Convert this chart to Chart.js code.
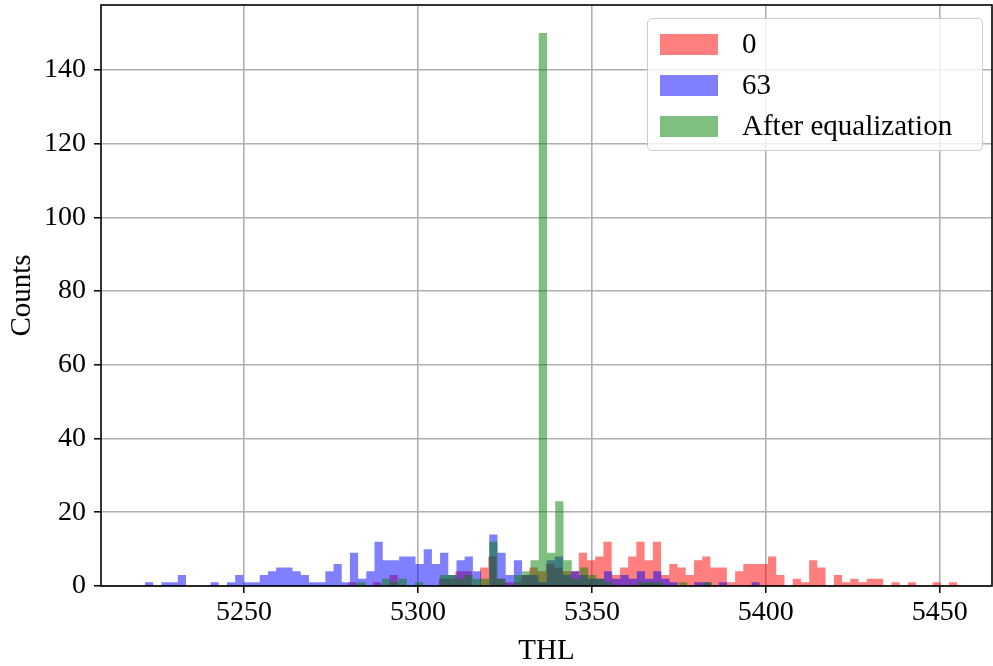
<!DOCTYPE html>
<html>
<head>
<meta charset="utf-8">
<script src="https://cdn.jsdelivr.net/npm/chart.js@4.4.1/dist/chart.umd.min.js"></script>
<style>
  body { margin: 0; background: #fff; }
  #wrap { position: relative; width: 993px; height: 666px; }
  #legend {
    position: absolute; left: 647px; top: 18px; width: 334px; height: 131px;
    border: 1px solid #cccccc; border-radius: 5px; background: rgba(255,255,255,0.8);
    font-family: "Liberation Serif", serif; font-size: 29px; color: #000;
  }
  .item { position: absolute; left: 12px; height: 22px; }
  .sw { position: absolute; left: 0; top: 0; width: 58px; height: 21px; }
  .lbl { position: absolute; left: 82px; top: -7px; white-space: nowrap; }
</style>
</head>
<body>
<div id="wrap">
  <canvas id="chartCanvas" width="993" height="666"></canvas>
  <div id="legend"></div>
</div>
<script>
// tick labels
const thlTicks = [5250, 5300, 5350, 5400, 5450];
const countTicks = [0, 20, 40, 60, 80, 100, 120, 140];

// histogram "0" (trim dac at 0)
const binStart0 = 5280.0;
const binWidth0 = 2.365;
const counts0 = [1, 0, 0, 1, 0, 3, 0, 0, 0, 0, 0, 2, 2, 4, 4, 0, 5, 8, 2, 1,
                 1, 3, 5, 4, 6, 5, 4, 4, 9, 7, 8, 12, 3, 5, 8, 12, 7, 12, 3, 6,
                 5, 3, 7, 8, 5, 5, 1, 4, 6, 6, 6, 8, 3, 0, 2, 1, 7, 5, 0, 3,
                 1, 2, 1, 2, 2, 0, 1, 0, 1, 0, 0, 1, 0, 1];

// histogram "63"
const binStart63 = 5221.55;
const binWidth63 = 2.356;
const counts63 = [1, 0, 1, 1, 3, 0, 0, 0, 1, 0, 1, 3, 1, 1, 3, 4, 5, 5, 4, 3,
                  1, 1, 4, 6, 1, 9, 2, 4, 12, 7, 7, 8, 8, 6, 10, 6, 9, 3, 7, 8,
                  4, 0, 14, 9, 3, 7, 3, 3, 1, 7, 8, 3, 4, 3, 2, 2, 4, 2, 3, 2,
                  4, 2, 4, 2, 1, 0, 0, 1, 1, 0, 1, 0, 0, 0, 1];

// histogram after equalization
const binStartEq = 5282.56;
const binWidthEq = 2.371;
const countsEq = [1, 0, 0, 2, 1, 2, 0, 1, 0, 0, 3, 3, 2, 3, 2, 2, 12, 2, 0, 3,
                  4, 7, 150, 9, 23, 7, 2, 5, 3, 2, 1, 0, 0, 0, 1, 1, 1, 0, 0, 1,
                  0, 0, 1];

function histPoints(start, width, counts) {
    let pts = [];
    counts.forEach((c, i) => {
        pts.push({x: start + i * width, y: c});
    });
    pts.push({x: start + counts.length * width, y: 0});
    return pts;
}

const series = [
    {label: "0", data: histPoints(binStart0, binWidth0, counts0), color: "rgba(255,0,0,0.5)", order: 3},
    {label: "63", data: histPoints(binStart63, binWidth63, counts63), color: "rgba(0,0,255,0.5)", order: 2},
    {label: "After equalization", data: histPoints(binStartEq, binWidthEq, countsEq), color: "rgba(0,128,0,0.5)", order: 1}
];

// html legend like matplotlib's
let legend = document.getElementById("legend");
series.forEach((s, i) => {
    let item = document.createElement("div");
    item.className = "item";
    item.style.top = (15 + i * 41) + "px";
    item.innerHTML = '<div class="sw" style="background:' + s.color + '"></div><div class="lbl">' + s.label + '</div>';
    legend.appendChild(item);
});

const serif = "'Liberation Serif', serif";

// black frame round the plot area
const frame = {
    id: "frame",
    afterDatasetsDraw(chart) {
        const a = chart.chartArea;
        const ctx = chart.ctx;
        ctx.save();
        ctx.strokeStyle = "#000";
        ctx.lineWidth = 1.6;
        ctx.strokeRect(a.left, a.top, a.right - a.left, a.bottom - a.top);
        ctx.restore();
    }
};

let graph = new Chart(document.querySelector("#chartCanvas"), {
    type: "line",
    data: {
        datasets: series.map(s => ({
            label: s.label,
            data: s.data,
            stepped: true,
            fill: "origin",
            backgroundColor: s.color,
            borderWidth: 0,
            pointRadius: 0,
            order: s.order
        }))
    },
    options: {
        responsive: false,
        animation: false,
        events: [],
        layout: { padding: { top: 5, right: 1, left: 0, bottom: 0 } },
        plugins: {
            legend: { display: false },
            tooltip: { enabled: false }
        },
        scales: {
            x: {
                type: "linear",
                min: 5208.9,
                max: 5465,
                afterBuildTicks: (s) => { s.ticks = thlTicks.map(v => ({value: v})); },
                afterFit: (s) => { s.height = 80; s.paddingLeft = 0; s.paddingRight = 0; },
                grid: { color: "#b0b0b0", lineWidth: 1.6, tickColor: "#000", tickLength: 7, tickWidth: 1.5 },
                border: { display: false },
                ticks: { color: "#000", font: { family: serif, size: 28 }, padding: 3, maxRotation: 0,
                         callback: (v) => String(v) },
                title: { display: true, text: "THL", color: "#000", font: { family: serif, size: 29 }, padding: { top: 0, bottom: -3 } }
            },
            y: {
                type: "linear",
                min: 0,
                max: 157.6,
                afterBuildTicks: (s) => { s.ticks = countTicks.map(v => ({value: v})); },
                afterFit: (s) => { s.width = 101; s.paddingTop = 0; s.paddingBottom = 0; },
                grid: { color: "#b0b0b0", lineWidth: 1.6, tickColor: "#000", tickLength: 7, tickWidth: 1.5 },
                border: { display: false },
                ticks: { color: "#000", font: { family: serif, size: 28 }, padding: 8,
                         callback: (v) => String(v) },
                title: { display: true, text: "Counts", color: "#000", font: { family: serif, size: 29 }, padding: { top: 5, bottom: 0 } }
            }
        }
    },
    plugins: [frame]
});
</script>
</body>
</html>
